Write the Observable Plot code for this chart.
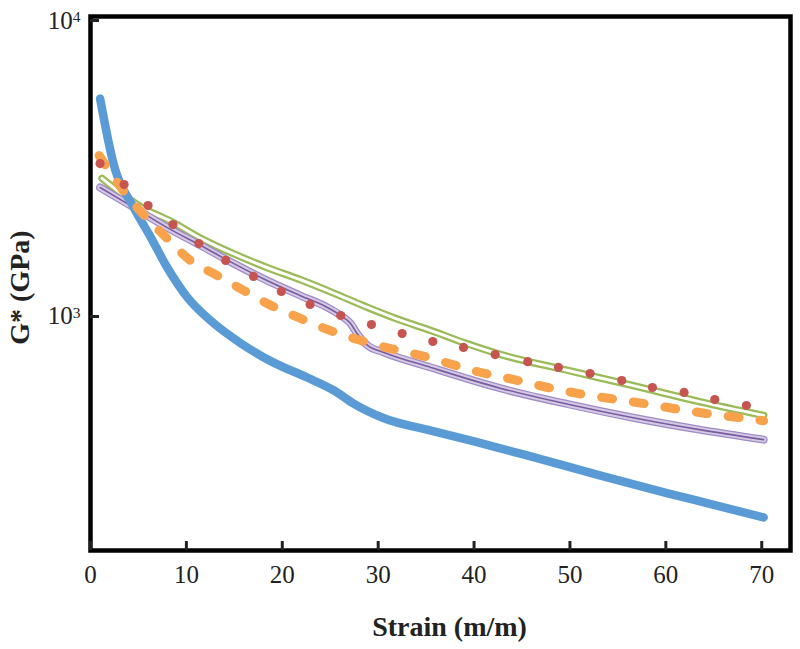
<!DOCTYPE html>
<html><head><meta charset="utf-8">
<script src="https://cdn.jsdelivr.net/npm/d3@7"></script>
<script src="https://cdn.jsdelivr.net/npm/@observablehq/plot@0.6"></script>
<style>body{margin:0;background:#fff;} #chart{width:800px;height:649px;}</style>
</head><body><div id="chart"></div>
<script>
// ---- data ----
const xTicks = [0, 10, 20, 30, 40, 50, 60, 70];
const yTicks = [1000, 10000];
const yTickLabels = ["10^3", "10^4"];
const xLabel = "Strain (m/m)";
const yLabel = "G* (GPa)";

const blueStrain = [1.0, 2.4, 4.5, 6.3, 8.0, 10.1, 12.5, 15.7, 19.1, 22.6, 25.4, 27.4, 30.6, 35.5, 40.0, 44.0, 48.0, 53.2, 60.2, 65.0, 70.2];
const blueG      = [5280, 3185, 2265, 1791, 1419, 1125, 940, 786, 677, 603, 545, 493, 439, 399, 367, 339, 313, 281, 245, 224, 203];

const greenStrain = [1.2, 3.5, 5.5, 8.2, 11.5, 14.9, 18.4, 21.9, 25.3, 28.9, 32.0, 35.5, 39.0, 42.8, 49.8, 56.6, 63.5, 70.2];
const greenG      = [2839, 2483, 2250, 2047, 1780, 1580, 1419, 1290, 1165, 1040, 950, 869, 790, 721, 637, 566, 500, 449];

const purpleStrain = [1.0, 4.5, 8.0, 11.5, 14.9, 18.4, 21.9, 24.7, 26.1, 27.1, 27.8, 28.9, 30.6, 35.5, 42.8, 49.8, 56.6, 63.5, 70.2];
const purpleG      = [2643, 2265, 1936, 1683, 1465, 1283, 1140, 1040, 977, 919, 849, 774, 733, 652, 554, 490, 441, 402, 372];

const orangeStrain = [0.9, 3.4, 8.0, 10.4, 13.2, 16.0, 18.8, 21.9, 25.0, 28.2, 31.3, 34.4, 40.7, 44.6, 47.7, 50.9, 54.2, 57.6, 60.8, 64.2, 67.5, 70.2];
const orangeG      = [3390, 2582, 1778, 1500, 1334, 1186, 1057, 955, 869, 804, 755, 716, 627, 589, 558, 532, 512, 493, 474, 456, 442, 431];

const redStrain = [1.0, 3.5, 6.0, 8.6, 11.3, 14.1, 17.0, 19.9, 22.9, 26.1, 29.3, 32.5, 35.7, 38.9, 42.2, 45.6, 48.8, 52.1, 55.4, 58.6, 61.9, 65.1, 68.4];
const redG      = [3184, 2706, 2297, 1981, 1709, 1499, 1324, 1178, 1065, 977, 910, 849, 798, 762, 721, 682, 652, 622, 589, 558, 537, 508, 485];

const rows = (xs, ys) => xs.map((x, i) => ({strain: x, g: ys[i]}));
const blue = rows(blueStrain, blueG);
const green = rows(greenStrain, greenG);
const purple = rows(purpleStrain, purpleG);
const orange = rows(orangeStrain, orangeG);
const red = rows(redStrain, redG);

const serif = "'Liberation Serif', 'Times New Roman', serif";
const lineOpts = {x: "strain", y: "g", curve: "monotone-x", strokeLinecap: "round", strokeLinejoin: "round"};

const chart = Plot.plot({
  width: 800, height: 649,
  marginLeft: 90, marginRight: 10, marginTop: 16, marginBottom: 99,
  style: {fontFamily: serif, background: "#fff", color: "#222"},
  x: {domain: [0, 73]},
  y: {type: "log", domain: [157, 10000]},
  marks: [
    Plot.line(green, {...lineOpts, stroke: "#9BBB59", strokeWidth: 7.5}),
    Plot.line(green, {...lineOpts, stroke: "#fff", strokeWidth: 3}),
    Plot.line(purple, {...lineOpts, stroke: "#9F8BC3", strokeWidth: 8}),
    Plot.line(purple, {...lineOpts, stroke: "#D4CAE6", strokeWidth: 5.5}),
    Plot.line(purple, {...lineOpts, stroke: "#7A5C9E", strokeWidth: 1.6}),
    Plot.line(blue, {...lineOpts, stroke: "#5B9BD5", strokeWidth: 8.5}),
    Plot.line(orange, {...lineOpts, stroke: "#F8A34C", strokeWidth: 9, strokeDasharray: "11,21"}),
    Plot.dot(red, {x: "strain", y: "g", r: 4.6, fill: "#C65552", stroke: null}),
    Plot.frame({stroke: "#000", strokeWidth: 4.5}),
    Plot.axisX({ticks: xTicks, tickSize: -9, strokeWidth: 3, tickPadding: 24, fontSize: 25, tickFormat: d => String(d), label: null, fill: "#222"}),
    Plot.axisY({ticks: yTicks, tickSize: -9, strokeWidth: 3, tickPadding: 19, fontSize: 25, dy: 4, tickFormat: d => yTickLabels[yTicks.indexOf(d)], label: null, fill: "#222"}),
    Plot.text([xLabel], {frameAnchor: "bottom", textAnchor: "middle", dy: 85, dx: 9, fontSize: 28, fontWeight: "bold", fill: "#222"}),
    Plot.text([yLabel], {frameAnchor: "left", textAnchor: "middle", rotate: -90, dx: -70, dy: 4, fontSize: 28, fontWeight: "bold", fill: "#222"})
  ]
});
document.getElementById("chart").appendChild(chart);

// superscript exponents on the log tick labels
d3.select(chart).selectAll("text").each(function() {
  const t = d3.select(this);
  const s = t.text();
  if (/^10\^\d$/.test(s)) {
    const [base, exp] = s.split("^");
    t.text(null);
    t.append("tspan").text(base);
    t.append("tspan").attr("dy", "-0.45em").attr("font-size", "0.62em").text(exp);
  }
});
</script>
</body></html>
